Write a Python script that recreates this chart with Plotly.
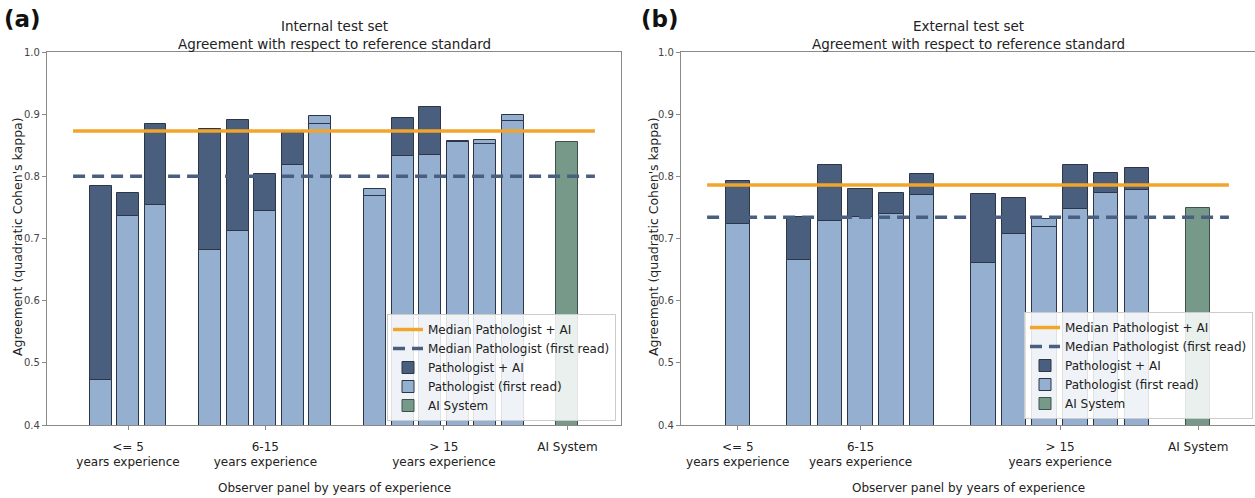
import plotly.graph_objects as go

# ---------------- data ----------------
group_labels = ["&lt;= 5<br>years experience", "6-15<br>years experience", "&gt; 15<br>years experience"]
ai_label = "AI System"

int_group_sizes = [3, 5, 6]
int_first_read = [0.473, 0.736, 0.754,
                  0.682, 0.712, 0.745, 0.819, 0.897,
                  0.779, 0.832, 0.834, 0.857, 0.858, 0.899]
int_with_ai = [0.785, 0.773, 0.884,
               0.876, 0.891, 0.803, 0.870, 0.884,
               0.768, 0.894, 0.911, 0.855, 0.852, 0.889]
int_ai_system = 0.855
int_median_with_ai = 0.873
int_median_first_read = 0.800

ext_group_sizes = [1, 5, 6]
ext_first_read = [0.723,
                  0.665, 0.728, 0.734, 0.739, 0.770,
                  0.660, 0.707, 0.731, 0.747, 0.773, 0.778]
ext_with_ai = [0.792,
               0.735, 0.818, 0.780, 0.774, 0.803,
               0.772, 0.765, 0.719, 0.818, 0.805, 0.814]
ext_ai_system = 0.749
ext_median_with_ai = 0.786
ext_median_first_read = 0.734

y_ticks = [0.4, 0.5, 0.6, 0.7, 0.8, 0.9, 1.0]

# ---------------- style ----------------
DARK = "#4a5e7d"
LIGHT = "#94afcf"
GREEN = "#76998a"
ORANGE = "#f2a52b"
DASH = "#4a5e80"
EDGE = "#2c3646"
FONT = "DejaVu Sans"

fig = go.Figure()


def layout_positions(sizes):
    xs, centers, p = [], [], 0
    for s in sizes:
        grp = list(range(p, p + s))
        xs += grp
        centers.append((grp[0] + grp[-1]) / 2)
        p += s + 1
    return xs, centers, p


def add_panel(xaxis, yaxis, legend, sizes, fr, ai, ai_sys, med_ai, med_fr):
    xs, centers, ai_x = layout_positions(sizes)
    common = dict(xaxis=xaxis, yaxis=yaxis, legend=legend, width=0.8, hoverinfo="skip")
    fig.add_trace(go.Bar(x=xs, y=ai, name="Pathologist + AI", marker=dict(color=DARK, line=dict(color=EDGE, width=1)),
                         legendrank=3, **common))
    fig.add_trace(go.Bar(x=xs, y=fr, name="Pathologist (first read)", marker=dict(color=LIGHT, line=dict(color=EDGE, width=1)),
                         legendrank=4, **common))
    inner = [a if a < f else None for a, f in zip(ai, fr)]
    fig.add_trace(go.Bar(x=xs, y=inner, showlegend=False, marker=dict(color=LIGHT, line=dict(color=EDGE, width=1)),
                         **common))
    fig.add_trace(go.Bar(x=[ai_x], y=[ai_sys], name="AI System", marker=dict(color=GREEN, line=dict(color="#3e5249", width=1)),
                         legendrank=5, **common))
    fig.add_trace(go.Scatter(x=[-1, ai_x + 1], y=[med_ai, med_ai], mode="lines", name="Median Pathologist + AI",
                             line=dict(color=ORANGE, width=3.5), xaxis=xaxis, yaxis=yaxis, legend=legend,
                             legendrank=1, hoverinfo="skip"))
    fig.add_trace(go.Scatter(x=[-1, ai_x + 1], y=[med_fr, med_fr], mode="lines", name="Median Pathologist (first read)",
                             line=dict(color=DASH, width=3.5, dash="12px,7px"), xaxis=xaxis, yaxis=yaxis, legend=legend,
                             legendrank=2, hoverinfo="skip"))
    span = ai_x + 2
    rng = [-1 - 0.05 * span, ai_x + 1 + 0.05 * span]
    return centers + [ai_x], rng


int_ticks, int_rng = add_panel("x", "y", "legend", int_group_sizes, int_first_read, int_with_ai,
                               int_ai_system, int_median_with_ai, int_median_first_read)
ext_ticks, ext_rng = add_panel("x2", "y2", "legend2", ext_group_sizes, ext_first_read, ext_with_ai,
                               ext_ai_system, ext_median_with_ai, ext_median_first_read)

W, H = 1255, 498
y_dom = [1 - 425 / H, 1 - 52 / H]


def xax(dom, rng, ticks):
    return dict(domain=dom, range=rng, tickvals=ticks, ticktext=group_labels + [ai_label],
                showline=True, linecolor="#8a8a8a", linewidth=1.2, mirror=True,
                ticks="outside", ticklen=4, tickcolor="#8a8a8a", showgrid=False, zeroline=False,
                tickfont=dict(family=FONT, size=12, color="#222"), ticklabelstandoff=6, fixedrange=True,
                automargin=False)


def yax(anchor):
    return dict(domain=y_dom, range=[0.4, 1.0], tickvals=y_ticks, ticktext=[f"{v:.1f}" for v in y_ticks],
                anchor=anchor, showline=True, linecolor="#8a8a8a", linewidth=1.2, mirror=True,
                ticks="outside", ticklen=4, tickcolor="#8a8a8a", showgrid=False, zeroline=False,
                tickfont=dict(family=FONT, size=10, color="#444"), fixedrange=True, automargin=False)


legend_style = dict(font=dict(family=FONT, size=12, color="#222"), bgcolor="rgba(255,255,255,0.85)",
                    bordercolor="#cccccc", borderwidth=1, traceorder="normal", xanchor="right", yanchor="bottom",
                    tracegroupgap=0, itemwidth=30)

fig.update_layout(
    width=W, height=H, margin=dict(l=0, r=0, t=0, b=0, autoexpand=False),
    paper_bgcolor="white", plot_bgcolor="white", barmode="overlay", bargap=0,
    font=dict(family=FONT),
    xaxis=xax([47 / W, 621 / W], int_rng, int_ticks),
    yaxis=yax("x"),
    xaxis2=xax([681 / W, 1.0], ext_rng, ext_ticks),
    yaxis2=yax("x2"),
    legend=dict(x=616 / W, y=1 - 421 / H, **legend_style),
    legend2=dict(x=1253 / W, y=1 - 419 / H, **legend_style),
    showlegend=True,
)

ann = []
for cx, title in [((47 + 621) / 2, "Internal test set"), ((681 + 1255) / 2, "External test set")]:
    ann.append(dict(x=cx / W, y=1 - 35 / H, xref="paper", yref="paper", showarrow=False,
                    text=title + "<br>Agreement with respect to reference standard",
                    font=dict(family=FONT, size=13.5, color="#222"), xanchor="center", yanchor="middle"))
    ann.append(dict(x=cx / W, y=1 - 488 / H, xref="paper", yref="paper", showarrow=False,
                    text="Observer panel by years of experience",
                    font=dict(family=FONT, size=12, color="#222"), xanchor="center", yanchor="middle"))
for px in [18, 654]:
    ann.append(dict(x=px / W, y=1 - 237 / H, xref="paper", yref="paper", showarrow=False, textangle=-90,
                    text="Agreement (quadratic Cohen's kappa)",
                    font=dict(family=FONT, size=12.5, color="#222"), xanchor="center", yanchor="middle"))
for px, lab in [(22, "(a)"), (660, "(b)")]:
    ann.append(dict(x=px / W, y=1 - 19 / H, xref="paper", yref="paper", showarrow=False,
                    text="<b>" + lab + "</b>", font=dict(family=FONT, size=23, color="#111"),
                    xanchor="center", yanchor="middle"))
fig.update_layout(annotations=ann)

fig.write_html("out.html", config={"displayModeBar": False},
               post_script="document.body.style.margin='0px';document.body.style.overflow='hidden';")
